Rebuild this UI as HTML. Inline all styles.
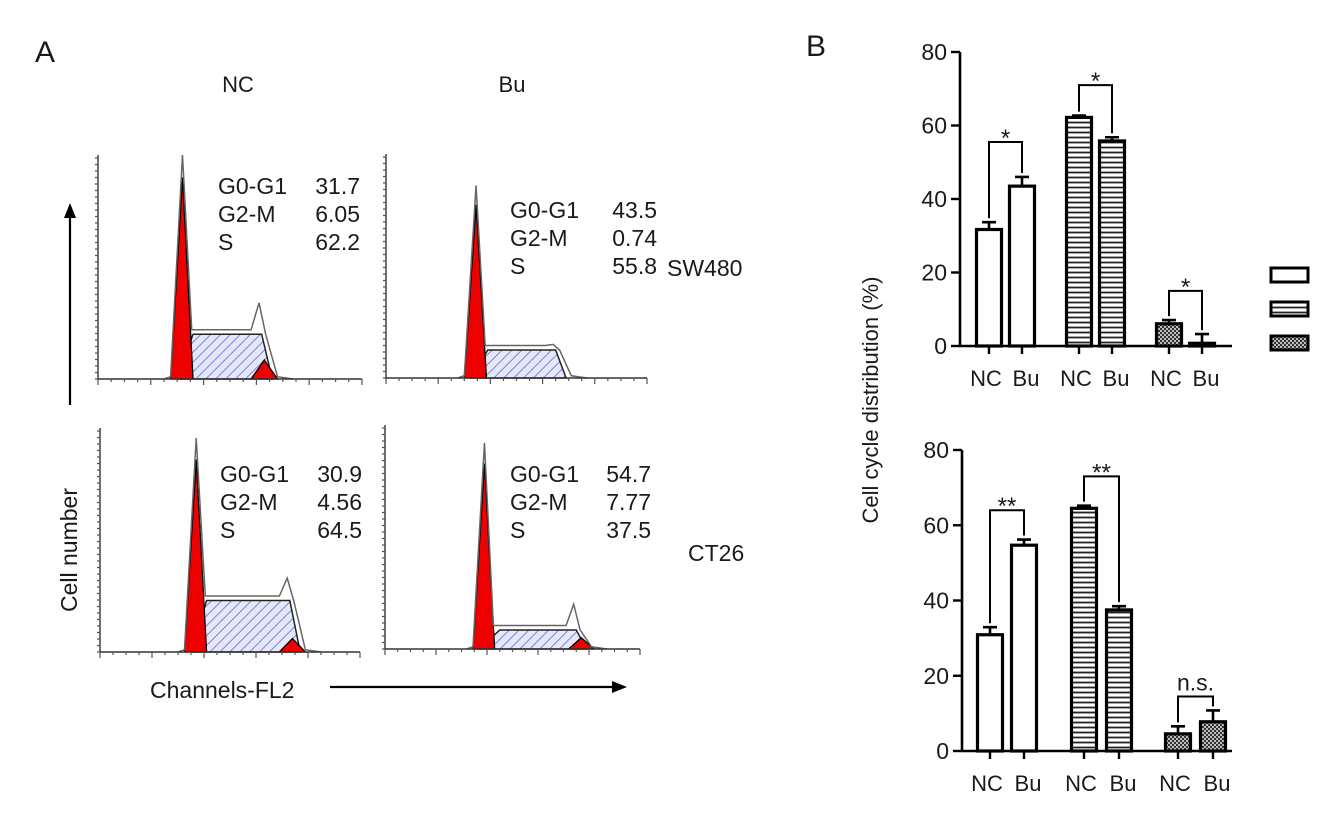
<!DOCTYPE html>
<html><head><meta charset="utf-8"><style>
html,body{margin:0;padding:0;background:#fff;}
svg{display:block;font-family:"Liberation Sans",Arial,sans-serif;}
text{fill:#1a1a1a;}
</style></head><body>
<svg id="fig" width="1339" height="818" viewBox="0 0 1339 818" xmlns="http://www.w3.org/2000/svg">
<defs>
<pattern id="hatchBlue" patternUnits="userSpaceOnUse" width="7" height="7" patternTransform="rotate(45)">
<rect width="7" height="7" fill="#e6e8fa"/><line x1="0" y1="0" x2="0" y2="7" stroke="#7c84d8" stroke-width="2"/></pattern>
<pattern id="hLines" patternUnits="userSpaceOnUse" width="6" height="5">
<rect width="6" height="5" fill="#fff"/><line x1="0" y1="2.5" x2="6" y2="2.5" stroke="#222" stroke-width="1.8"/></pattern>
<pattern id="checker" patternUnits="userSpaceOnUse" width="4" height="4">
<rect width="4" height="4" fill="#bbb"/><rect width="2" height="2" fill="#333"/><rect x="2" y="2" width="2" height="2" fill="#333"/></pattern>
</defs>
<text x="35" y="62" style="font-size:30px">A</text>
<text x="806" y="56" style="font-size:30px">B</text>
<text x="238" y="92" style="font-size:22px" text-anchor="middle">NC</text>
<text x="512" y="92" style="font-size:22px" text-anchor="middle">Bu</text>
<text x="667" y="276" style="font-size:23px">SW480</text>
<text x="688" y="561" style="font-size:23px">CT26</text>
<text transform="translate(77,550) rotate(-90)" style="font-size:23px" text-anchor="middle">Cell number</text>
<line x1="70" y1="405" x2="70" y2="215" stroke="#000" stroke-width="2.2"/>
<polygon points="64,218 76,218 70,203" fill="#000"/>
<text x="150" y="698" style="font-size:23px">Channels-FL2</text>
<line x1="330" y1="687" x2="615" y2="687" stroke="#000" stroke-width="2.2"/>
<polygon points="612,681 612,693 627,687" fill="#000"/>
<g id="hist"></g>
<g id="bars"></g>
</svg>
<script>
// ---- histogram data (fractions of panel width / height) ----
const panelNames = ['sw480-nc','sw480-bu','ct26-nc','ct26-bu'];
const g1Pos = [32, 34.5, 37, 39];
const g1Height = [1.0, 0.86, 0.955, 0.92];
const sStart = [36, 39, 41, 45];
const sEnd = [62, 65, 73, 75];
const sHeight = [0.2, 0.125, 0.23, 0.085];
const g2Pos = [63, 66, 74, 77];
const g2Height = [0.085, 0.0, 0.06, 0.05];
const bumpHeight = [0.34, 0.15, 0.33, 0.2];
const statG1 = ['31.7','43.5','30.9','54.7'];
const statG2 = ['6.05','0.74','4.56','7.77'];
const statS = ['62.2','55.8','64.5','37.5'];
// layout (not data)
const PL = [98,386,100,385], PW=[264,261,260,255], PB=[379,378,652,649], PH=224;
const TX=[218,510,220,510], TR=[360,657,362,651], TY=[194,218,482,482];
const NS='http://www.w3.org/2000/svg';
function mk(tag,attrs,parent){const e=document.createElementNS(NS,tag);for(const k in attrs)e.setAttribute(k,attrs[k]);parent.appendChild(e);return e;}
const hist=document.getElementById('hist');
for(let i=0;i<4;i++){
  const g=mk('g',{},hist);
  
  
  const X=v=>PL[i]+v/100*PW[i], Y=f=>PB[i]-f*PH;
  const s=mk('polygon',{points:[[X(g1Pos[i]-2),Y(0)],[X(sStart[i]),Y(sHeight[i])],[X(sEnd[i]),Y(sHeight[i])],[X(sEnd[i]+4),Y(0)]].map(p=>p.join(',')).join(' '),fill:'url(#hatchBlue)',stroke:'#222','stroke-width':1.5},g);
  
  
  const p1=mk('polygon',{points:[[X(g1Pos[i]-4.5),Y(0)],[X(g1Pos[i]),Y(g1Height[i]*0.9)],[X(g1Pos[i]+4),Y(0)]].map(p=>p.join(',')).join(' '),fill:'#ee0000',stroke:'#000','stroke-width':1.3},g);
  
  
  if(g2Height[i]>0){
    const p2=mk('polygon',{points:[[X(g2Pos[i]-5),Y(0)],[X(g2Pos[i]),Y(g2Height[i])],[X(g2Pos[i]+5),Y(0)]].map(p=>p.join(',')).join(' '),fill:'#ee0000',stroke:'#000','stroke-width':1.3},g);
    
    
  }
  const env=[[X(g1Pos[i]-7),Y(0)],[X(g1Pos[i]-4.5),Y(0.01)],[X(g1Pos[i]),Y(g1Height[i])],[X(g1Pos[i]+3.5),Y(sHeight[i]+0.02)],[X(sEnd[i]-4),Y(sHeight[i]+0.02)],[X(sEnd[i]-1),Y(bumpHeight[i])],[X(sEnd[i]+1.5),Y(sHeight[i])],[X(sEnd[i]+6),Y(0.01)],[X(sEnd[i]+12),Y(0)]];
  const o=mk('polyline',{points:env.map(p=>p.join(',')).join(' '),fill:'none',stroke:'#666','stroke-width':1.5},g);
  
  
  const ax=mk('path',{d:`M${PL[i]},${PB[i]-PH} V${PB[i]} H${PL[i]+PW[i]}`,fill:'none',stroke:'#333','stroke-width':1.4},g);
  
  
  let d='';
  for(let y=PB[i];y>=PB[i]-PH;y-=6.5){d+=`M${PL[i]-3},${y}H${PL[i]}`;}
  for(let k=0;k<=20;k++){const x=PL[i]+k*PW[i]/20;d+=`M${x},${PB[i]}V${PB[i]+(k%4==0?6:3)}`;}
  mk('path',{d:d,stroke:'#555','stroke-width':1.2},g);
  const labs=['G0-G1','G2-M','S'], vals=[statG1[i],statG2[i],statS[i]];
  for(let r=0;r<3;r++){
    const t=mk('text',{x:TX[i],y:TY[i]+r*28,style:'font-size:23px'},g);t.textContent=labs[r];
    
    
    const v=mk('text',{x:TR[i],y:TY[i]+r*28,style:'font-size:23px','text-anchor':'end'},g);v.textContent=vals[r];
    
    
  }
}
// ---- bar chart data ----
const barCategories = ['NC','Bu','NC','Bu','NC','Bu'];
const phaseGroups = ['G0-G1','S','G2-M'];
const sw480Values = [31.7, 43.5, 62.2, 55.8, 6.05, 0.74];
const sw480Errors = [2, 2.5, 0.5, 1, 1, 2.5];
const ct26Values = [30.9, 54.7, 64.5, 37.5, 4.56, 7.77];
const ct26Errors = [2, 1.5, 0.7, 1, 2, 3];
const sw480Brackets = [55.5, 71, 15];
const ct26Brackets = [64, 73, 14.5];
const sw480Sig = ['*','*','*'];
const ct26Sig = ['**','**','n.s.'];
const yTicks = [0,20,40,60,80];
const fills = ['#fff','url(#hLines)','url(#checker)'];
const bars=document.getElementById('bars');
function barChart(name,axX,y0,y80,centers,vals,errs,brk,sig){
  const g=mk('g',{},bars);
  
  
  const Y=v=>y0-(v/80)*(y0-y80);
  const xEnd=1232;
  const a=mk('path',{d:`M${axX},${Y(80)}V${y0}H${xEnd}`,fill:'none',stroke:'#000','stroke-width':2.6},g);
  
  
  yTicks.forEach(t=>{
    mk('line',{x1:axX-9,x2:axX,y1:Y(t),y2:Y(t),stroke:'#000','stroke-width':2.4},g);
    const tl=mk('text',{x:axX-13,y:Y(t)+8,style:'font-size:23px','text-anchor':'end'},g);tl.textContent=t;
    
    
  });
  vals.forEach((v,k)=>{
    const cx=centers[k], w=25;
    const b=mk('rect',{x:cx-w/2,y:Y(v),width:w,height:y0-Y(v),fill:fills[Math.floor(k/2)],stroke:'#000','stroke-width':3.2},g);
    
    
    const ey=Y(v+errs[k]);
    mk('path',{d:`M${cx},${Y(v)}V${ey}M${cx-7},${ey}H${cx+7}`,stroke:'#000','stroke-width':2.6,fill:'none'},g);
    mk('line',{x1:cx,x2:cx,y1:y0,y2:y0+8,stroke:'#000','stroke-width':2.4},g);
    const xl=mk('text',{x:cx+(k%2==0?-3:4),y:y0+40,style:'font-size:22px','text-anchor':'middle'},g);xl.textContent=barCategories[k];
    
    
  });
  for(let j=0;j<3;j++){
    const c1=centers[2*j],c2=centers[2*j+1],by=Y(brk[j]);
    const br=mk('path',{d:`M${c1},${Y(vals[2*j]+errs[2*j])-4}V${by}H${c2}V${Y(vals[2*j+1]+errs[2*j+1])-4}`,fill:'none',stroke:'#000','stroke-width':2},g);
    
    
    const st=mk('text',{x:(c1+c2)/2,y:by-(sig[j]=='n.s.'?6:-4),style:'font-size:'+(sig[j]=='n.s.'?23:24)+'px','text-anchor':'middle'},g);st.textContent=sig[j];
    
    
  }
}
barChart('sw480-bar-chart',960,346,52,[989,1022,1079,1112,1169,1202],sw480Values,sw480Errors,sw480Brackets,sw480Sig);
barChart('ct26-bar-chart',962,751,450,[990,1024,1084,1119,1178,1213],ct26Values,ct26Errors,ct26Brackets,ct26Sig);
const yl=mk('text',{transform:'translate(878,400) rotate(-90)',style:'font-size:22px','text-anchor':'middle'},bars);
yl.textContent='Cell cycle distribution (%)';


[268,302,336].forEach((y,k)=>{
  const r=mk('rect',{x:1271,y:y,width:37,height:14,fill:fills[k],stroke:'#000','stroke-width':3},bars);
  
  
});
</script>
</body></html>
